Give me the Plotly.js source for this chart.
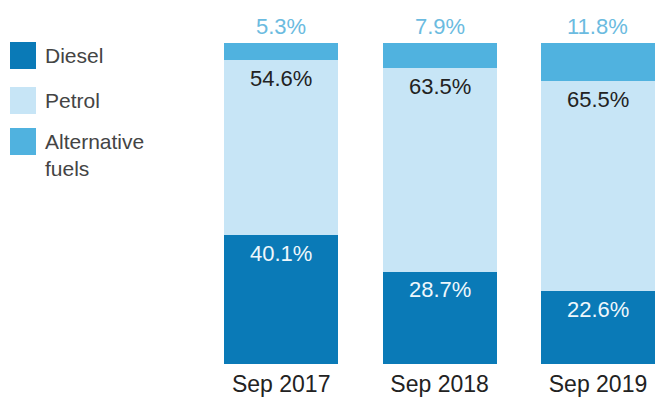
<!DOCTYPE html>
<html><head><meta charset="utf-8">
<script src="https://cdn.plot.ly/plotly-3.0.1.min.js"></script>
<style>html,body{margin:0;padding:0;background:#fff}#chart{width:655px;height:398px}</style>
</head><body><div id="chart"></div>
<script>
const categories = ["Sep 2017", "Sep 2018", "Sep 2019"];
const diesel = [40.1, 28.7, 22.6];
const petrol = [54.6, 63.5, 65.5];
const alternative = [5.3, 7.9, 11.8];
const seriesNames = ["Diesel", "Petrol", "Alternative<br>fuels"];
const seriesColors = ["#0a7ab7", "#c7e5f6", "#50b2df"];
const labelColors = ["#eef7fc", "#222222", "#6bbbe0"];

const FONT = "Liberation Sans, Arial, sans-serif";
const W = 655, H = 398, ML = 202, MR = 0, MT = 43, MB = 34;
const pw = W - ML - MR, ph = H - MT - MB;
const px = x => (x - ML) / pw;
const py = y => (H - MB - y) / ph;
const fmt = v => v.toFixed(1) + "%";

const series = [diesel, petrol, alternative];
const traces = series.map((vals, i) => ({
  type: "bar", name: seriesNames[i], x: categories, y: vals,
  marker: {color: seriesColors[i], line: {width: 0}}, hoverinfo: "none"
}));

const shapes = [], annotations = [];

// value labels, anchored to each segment top through the data axes
categories.forEach((c, j) => {
  let cum = 0;
  series.forEach((vals, i) => {
    cum += vals[j];
    const top = i === series.length - 1 ? 100 : cum;
    annotations.push({
      xref: "x", yref: "y", x: c, y: top, showarrow: false,
      text: fmt(vals[j]), xanchor: "center", yanchor: "middle",
      yshift: i === series.length - 1 ? 17 : -18,
      font: {family: FONT, size: 22, color: labelColors[i]}
    });
  });
});

// legend
const legTop = [42, 87, 128];
seriesNames.forEach((n, i) => {
  shapes.push({type: "rect", xref: "paper", yref: "paper",
    x0: px(10), x1: px(36), y0: py(legTop[i] + 27), y1: py(legTop[i]),
    fillcolor: seriesColors[i], line: {width: 0}});
  annotations.push({xref: "paper", yref: "paper", x: px(43), y: py(legTop[i]),
    xanchor: "left", yanchor: "top", align: "left", showarrow: false, text: n,
    font: {family: FONT, size: 21, color: "#444444"}});
});

const layout = {
  width: W, height: H,
  margin: {l: ML, r: MR, t: MT, b: MB, pad: 0},
  paper_bgcolor: "#ffffff", plot_bgcolor: "#ffffff",
  barmode: "stack", bargap: 0.28, showlegend: false,
  xaxis: {type: "category", range: [-0.5, 2.36], showgrid: false, zeroline: false, showline: false,
    ticks: "", tickfont: {family: FONT, size: 23, color: "#222222"}, ticklabelstandoff: 4, fixedrange: true},
  yaxis: {range: [0, 100], visible: false, fixedrange: true},
  shapes: shapes, annotations: annotations
};
Plotly.newPlot("chart", traces, layout, {displayModeBar: false, staticPlot: true});
</script></body></html>
